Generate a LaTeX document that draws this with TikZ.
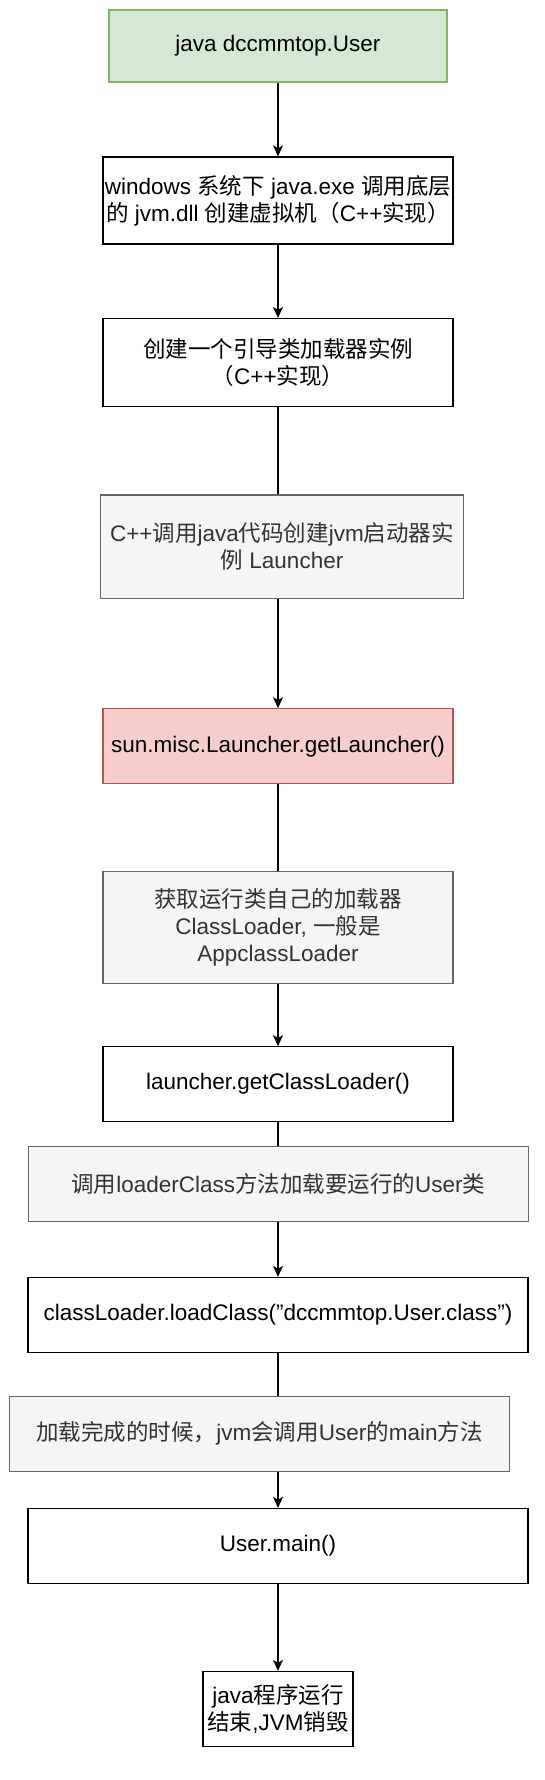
\documentclass[tikz,border=0pt]{standalone}
\usepackage{fontspec}
\setmainfont{Liberation Sans}
\newfontfamily\cjk{Noto Sans CJK SC}
\newcommand\zh[1]{{\cjk #1}}
\newcommand\dq{\symbol{34}}
\usetikzlibrary{arrows.meta}
\pgfdeclarelayer{bg}
\pgfsetlayers{bg,main}
\definecolor{grayfill}{HTML}{F5F5F5}
\definecolor{grayline}{HTML}{666666}
\definecolor{graytext}{HTML}{333333}
\definecolor{greenfill}{HTML}{D5E8D4}
\definecolor{greenline}{HTML}{82B366}
\definecolor{redfill}{HTML}{F8CECC}
\definecolor{redline}{HTML}{B85450}
\tikzset{
  box/.style={draw=black, line width=1.3pt, fill=white, inner sep=0pt, align=center},
  graybox/.style={box, draw=grayline, fill=grayfill, text=graytext},
  greenbox/.style={box, draw=greenline, fill=greenfill},
  redbox/.style={box, draw=redline, fill=redfill},
  conn/.style={line width=1.3pt, -{Stealth[length=11pt,width=10pt,inset=3pt]}}
}
\begin{document}
\begin{tikzpicture}[x=1pt,y=-1pt,font=\fontsize{22.5}{27}\selectfont]
\useasboundingbox (0,0) rectangle (545,1780);
\node[greenbox, minimum width=338pt, minimum height=72pt] (n1) at (278,46) {java dccmmtop.User};
\node[box, minimum width=350pt, minimum height=87pt] (n2) at (278,200.5) {windows \zh{系统下} java.exe \zh{调用底层}\\\zh{的} jvm.dll \zh{创建虚拟机（}C++\zh{实现）}};
\node[box, minimum width=350pt, minimum height=88pt] (n3) at (278,362.6) {\zh{创建一个引导类加载器实例}\\\zh{（}C++\zh{实现）}};
\node[graybox, minimum width=362.5pt, minimum height=103.6pt] (n4) at (282,546.8) {C++\zh{调用}java\zh{代码创建}jvm\zh{启动器实}\\\zh{例} Launcher};
\node[redbox, minimum width=350pt, minimum height=75pt] (n5) at (278,746.3) {sun.misc.Launcher.getLauncher()};
\node[graybox, minimum width=350pt, minimum height=112pt] (n6) at (278,927.5) {\zh{获取运行类自己的加载器}\\ClassLoader, \zh{一般是}\\AppclassLoader};
\node[box, minimum width=350pt, minimum height=74.4pt] (n7) at (278,1084) {launcher.getClassLoader()};
\node[graybox, minimum width=500pt, minimum height=75pt] (n8) at (278.2,1184) {\zh{调用}loaderClass\zh{方法加载要运行的}User\zh{类}};
\node[box, minimum width=500pt, minimum height=75pt] (n9) at (278,1315) {classLoader.loadClass(\dq dccmmtop.User.class\dq)};
\node[graybox, minimum width=500pt, minimum height=75pt] (n10) at (259.6,1433.7) {\zh{加载完成的时候，}jvm\zh{会调用}User\zh{的}main\zh{方法}};
\node[box, minimum width=500pt, minimum height=75pt] (n11) at (278,1546) {User.main()};
\node[box, minimum width=150pt, minimum height=75pt] (n12) at (278,1709) {java\zh{程序运行}\\\zh{结束},JVM\zh{销毁}};
\begin{pgfonlayer}{bg}
\draw[conn] (n1.south) -- (n2.north);
\draw[conn] (n2.south) -- (n3.north);
\draw[conn] (n3.south) -- (n5.north);
\draw[conn] (n5.south) -- (n7.north);
\draw[conn] (n7.south) -- (n9.north);
\draw[conn] (n9.south) -- (n11.north);
\draw[conn] (n11.south) -- (n12.north);
\end{pgfonlayer}
\end{tikzpicture}
\end{document}
